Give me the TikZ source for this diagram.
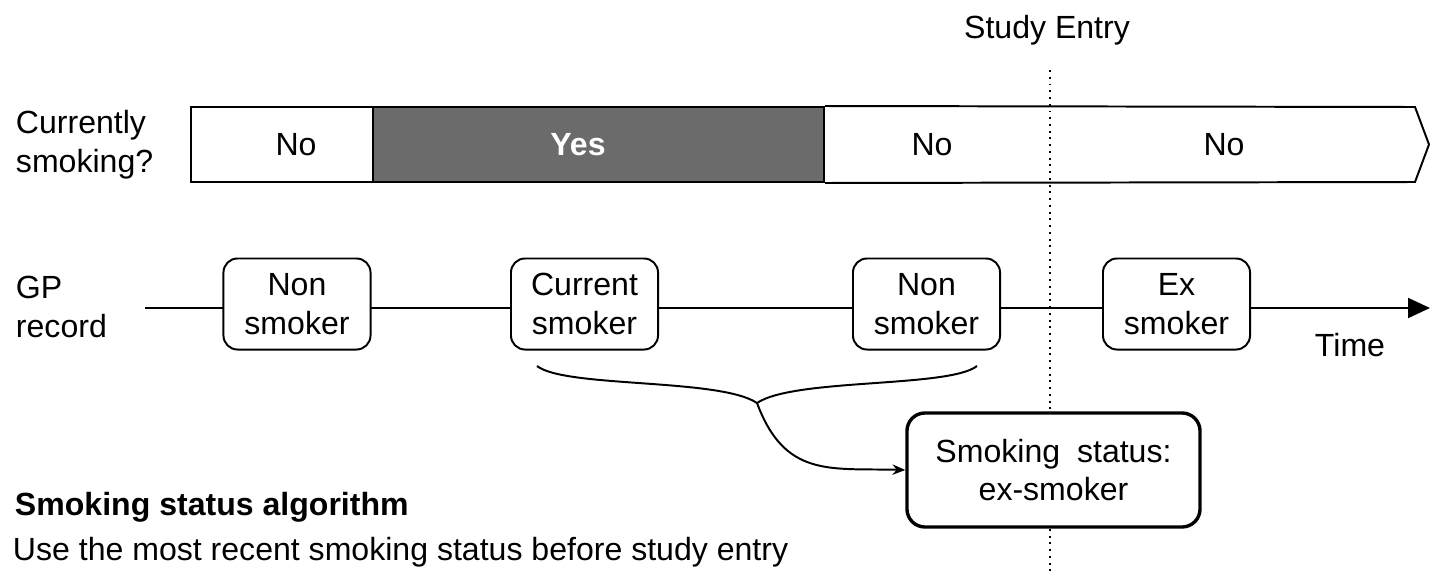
\documentclass[tikz,border=0pt]{standalone}
\usepackage{fontspec}
\setmainfont{Liberation Sans}
\usetikzlibrary{arrows.meta}
\definecolor{yesgray}{RGB}{107,107,107}

\begin{document}
\begin{tikzpicture}[x=0.025cm,y=-0.025cm,line width=1.4pt,
  font=\fontsize{22.8}{27.5}\selectfont,
  every node/.style={inner sep=0pt},
  seg/.style={draw,minimum height=1.875cm},
  record/.style={draw,fill=white,rounded corners=0.35cm,align=center,
    minimum width=3.675cm,minimum height=2.275cm},
  status/.style={record,line width=2.4pt,rounded corners=0.45cm,
    minimum width=7.325cm,minimum height=2.85cm},
  side/.style={align=left,anchor=west}]
  \useasboundingbox (0,0) rectangle (1430,573);

  % study entry
  \node (entry) at (1047,30) {Study Entry};
  \coordinate (etop) at (1050,70);
  \coordinate (ebot) at (1050,573);
  \draw[dash pattern=on 1.4pt off 3.4pt] (etop) -- (ebot);

  % currently smoking bar
  \node[side] (cur) at (15,145) {Currently\\smoking?};
  \node[seg, minimum width=4.55cm] (s1) at (282,144.5) {};
  \node[seg, fill=yesgray, minimum width=11.275cm] (s2) at (598.5,144.5) {};
  \coordinate (tip) at (1429,144.5);
  \draw (s2.north east) -- (1415,107) -- (tip) -- (1415,182) -- (s2.south east);
  \node (no1) at (296,145) {No};
  \node[text=white,font=\fontsize{22.8}{27.5}\selectfont\bfseries] (yes) at (578,145) {Yes};
  \node (no2) at (932,145) {No};
  \node (no3) at (1224,145) {No};

  % GP record
  \node[side] (gp) at (15,307) {GP\\record};
  \coordinate (t0) at (145,308);
  \coordinate (t1) at (1430,308);
  \draw[-{Triangle[length=0.55cm,width=0.5cm]}] (t0) -- (t1);
  \node[record] (r1) at (297,304) {Non\\smoker};
  \node[record] (r2) at (584.5,304) {Current\\smoker};
  \node[record] (r3) at (926.5,304) {Non\\smoker};
  \node[record] (r4) at (1176.5,304) {Ex\\smoker};
  \node (time) at (1350,345) {Time};

  % brace to result
  \coordinate (bl) at (537,366);
  \coordinate (br) at (977,366);
  \coordinate (bj) at (757,403);
  \node[status] (res) at (1053.5,470) {Smoking\hspace{0.25em} status:\\ex-smoker};
  \draw (bl) .. controls (565,388) and (720,378) .. (bj);
  \draw (br) .. controls (949,388) and (794,378) .. (bj);
  \draw[-{Stealth[length=0.32cm,width=0.26cm]}] (bj) .. controls (785,478) and (830,468) .. (res.west);

  % algorithm
  \node[anchor=base west,font=\fontsize{22.8}{27.5}\selectfont\bfseries] (algo) at (14,515) {Smoking status algorithm};
  \node[anchor=base west] (rule) at (12,560) {Use the most recent smoking status before study entry};
\end{tikzpicture}
\end{document}
